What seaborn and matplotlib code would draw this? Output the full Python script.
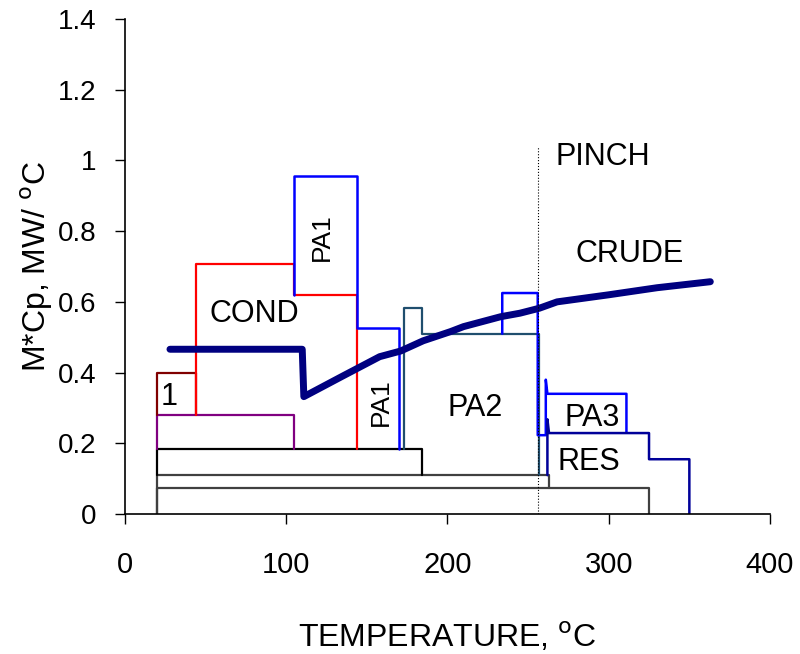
import matplotlib
matplotlib.use("Agg")
import matplotlib.pyplot as plt
import seaborn as sns

sns.set_theme(style="white")
plt.rcParams['font.family'] = ['Liberation Sans', 'DejaVu Sans']

# ---- data (temperature °C, M*Cp MW/°C) ----
grey_low_T = [20, 20, 325, 325]
grey_low_M = [0, 0.075, 0.075, 0]
grey_mid_T = [20, 20, 263, 263]
grey_mid_M = [0, 0.11, 0.11, 0.075]
black_T = [20, 20, 184, 184]
black_M = [0.11, 0.184, 0.184, 0.11]
purple_T = [20, 20, 105, 105]
purple_M = [0.184, 0.28, 0.28, 0.184]
one_T = [20, 20, 44, 44]
one_M = [0.28, 0.40, 0.40, 0.28]
cond_T = [44, 44, 105, 105, 144, 144]
cond_M = [0.28, 0.707, 0.707, 0.62, 0.62, 0.184]
pa1_T = [105, 105, 144, 144, 170, 170]
pa1_M = [0.62, 0.955, 0.955, 0.525, 0.525, 0.184]
pa2_T = [173, 173, 184, 184, 257, 257]
pa2_M = [0.184, 0.583, 0.583, 0.51, 0.51, 0.11]
pa3_T = [234, 234, 256, 256, 261, 261, 262, 311, 311]
pa3_M = [0.51, 0.625, 0.625, 0.223, 0.223, 0.38, 0.34, 0.34, 0.23]
res_T = [262, 262, 263, 325, 325, 350, 350]
res_M = [0.11, 0.268, 0.229, 0.229, 0.155, 0.155, 0]
crude_T = [28, 110, 111, 135, 158, 171, 185, 202, 210, 233, 245, 257, 268, 300, 330, 363]
crude_M = [0.466, 0.466, 0.332, 0.39, 0.445, 0.461, 0.49, 0.516, 0.53, 0.558, 0.568, 0.582, 0.600, 0.62, 0.64, 0.657]
pinch_T = [256, 256]
pinch_M = [0, 1.04]

labels = ["CRUDE", "COND", "PA1", "PA1", "PA2", "PA3", "RES", "1", "PINCH"]
label_T = [313, 80.6, 122, 159, 217, 289.6, 287.8, 27.6, 267]
label_M = [0.735, 0.566, 0.783, 0.317, 0.30, 0.271, 0.146, 0.33, 1.01]
label_rot = [0, 0, 90, 90, 0, 0, 0, 0, 0]
label_size = [22, 22, 19, 19, 22, 22, 22, 22, 22]

x_ticks = [0, 100, 200, 300, 400]
y_ticks = [0, 0.2, 0.4, 0.6, 0.8, 1.0, 1.2, 1.4]
y_tick_labels = ["0", "0.2", "0.4", "0.6", "0.8", "1", "1.2", "1.4"]

fig = plt.figure(figsize=(8.0, 6.54), dpi=100)
ax = fig.add_axes([0.156, 0.214, 0.8065, 0.757])

def step(T, M, color, lw, ls='-'):
    sns.lineplot(x=T, y=M, sort=False, estimator=None, color=color,
                 linewidth=lw, linestyle=ls, ax=ax)

step(grey_low_T, grey_low_M, '#404040', 1.6)
step(grey_mid_T, grey_mid_M, '#404040', 1.6)
step(black_T, black_M, '#000000', 1.6)
step(purple_T, purple_M, '#800080', 1.6)
step(one_T, one_M, '#800000', 1.6)
step(cond_T, cond_M, '#FF0000', 1.6)
step(pa1_T, pa1_M, '#0000FF', 1.8)
step(pa2_T, pa2_M, '#1F4E6E', 1.6)
step(pa3_T, pa3_M, '#0000FF', 1.8)
step(res_T, res_M, '#000099', 1.8)
step(crude_T, crude_M, '#000080', 5)
step(pinch_T, pinch_M, '#000000', 0.8, ':')

for t, x, y, r, fs in zip(labels, label_T, label_M, label_rot, label_size):
    ha = 'left' if t == 'PINCH' else 'center'
    ax.text(x, y, t, fontsize=fs, ha=ha, va='center', rotation=r, color='black')

ax.set_xlim(0, 400)
ax.set_ylim(0, 1.4)
ax.set_xticks(x_ticks)
ax.set_xticklabels([str(v) for v in x_ticks])
ax.set_yticks(y_ticks)
ax.set_yticklabels(y_tick_labels)
ax.tick_params(axis='both', direction='out', length=7.5, width=1,
               colors='black', left=True, bottom=True)
ax.tick_params(axis='x', pad=19, labelsize=21)
ax.tick_params(axis='y', pad=13, labelsize=20)
sns.despine(ax=ax)
for s in ['left', 'bottom']:
    ax.spines[s].set_color('black')
    ax.spines[s].set_linewidth(1.2)
ax.set_xlabel("TEMPERATURE, $^{\\mathrm{o}}$C", fontsize=23, labelpad=30, color='black')
ax.set_ylabel("M*Cp, MW/ $^{\\mathrm{o}}$C", fontsize=23, labelpad=2, color='black')

fig.savefig("out.png", dpi=100)
